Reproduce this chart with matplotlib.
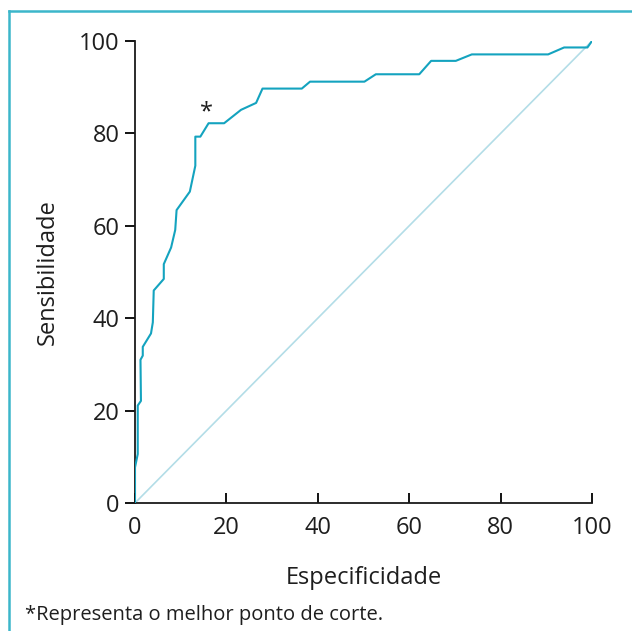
import matplotlib.pyplot as plt
from matplotlib.lines import Line2D

# ROC curve points (x = especificidade axis, y = sensibilidade)
roc_x = [0, 0, 0.6, 0.6, 1.3, 1.2, 1.7, 1.7, 3.5, 3.9, 4.1, 6.3, 6.3, 7.9, 8.8, 9.1,
         12.0, 13.2, 13.2, 14.3, 16.1, 19.5, 23.2, 26.5, 27.9, 36.5, 38.3, 50.2,
         52.7, 62.2, 64.8, 70.2, 73.7, 90.4, 93.9, 99.0, 100]
roc_y = [0, 7.7, 10.6, 21.1, 22.1, 31.0, 31.9, 33.8, 36.7, 39.1, 46.0, 48.5, 51.7,
         55.3, 59.1, 63.4, 67.4, 73.0, 79.3, 79.3, 82.2, 82.2, 85.1, 86.6, 89.7,
         89.7, 91.2, 91.2, 92.8, 92.8, 95.7, 95.7, 97.1, 97.1, 98.6, 98.6, 100]
ref_x = [0, 100]
ref_y = [0, 100]
best_cut = (15.7, 84.6)
ticks = [0, 20, 40, 60, 80, 100]

plt.rcParams['font.family'] = ['Open Sans', 'DejaVu Sans']
txt = '#1e1e1e'

fig = plt.figure(figsize=(6.32, 6.31), dpi=100)
ax = fig.add_axes([135 / 632, 1 - 503 / 631, 457 / 632, 462 / 631])

ax.plot(ref_x, ref_y, color='#b3dde7', lw=1.2, zorder=2)
ax.plot(roc_x, roc_y, color='#14a3bf', lw=1.5, zorder=3)
ax.text(best_cut[0], best_cut[1], '*', fontsize=17, ha='center', va='center', color=txt)

ax.set_xlim(0, 100)
ax.set_ylim(0, 100)
ax.set_xticks(ticks)
ax.set_yticks(ticks)
for s in ['top', 'right']:
    ax.spines[s].set_visible(False)
for s in ['left', 'bottom']:
    ax.spines[s].set_linewidth(1.3)
    ax.spines[s].set_color('#1a1a1a')
ax.tick_params(axis='x', direction='in', length=7, width=1.3, labelsize=17, pad=9,
               labelcolor=txt)
ax.tick_params(axis='y', direction='out', length=7, width=1.3, labelsize=17, pad=4,
               labelcolor=txt)
ax.set_xlabel('Especificidade', fontsize=17, labelpad=19, color=txt)
ax.set_ylabel('Sensibilidade', fontsize=17, labelpad=14, color=txt)

fig.text(25 / 632, 1 - 615 / 631, '*Representa o melhor ponto de corte.', fontsize=14.5,
         ha='left', va='center', color=txt)

# teal frame on top and left
fig.add_artist(Line2D([9 / 632, 9 / 632], [0, 1 - 11 / 631], transform=fig.transFigure,
                      color='#3cb6ca', lw=1.8))
fig.add_artist(Line2D([9 / 632, 1], [1 - 11 / 631, 1 - 11 / 631], transform=fig.transFigure,
                      color='#3cb6ca', lw=1.8))

fig.savefig('out.png', dpi=100)
